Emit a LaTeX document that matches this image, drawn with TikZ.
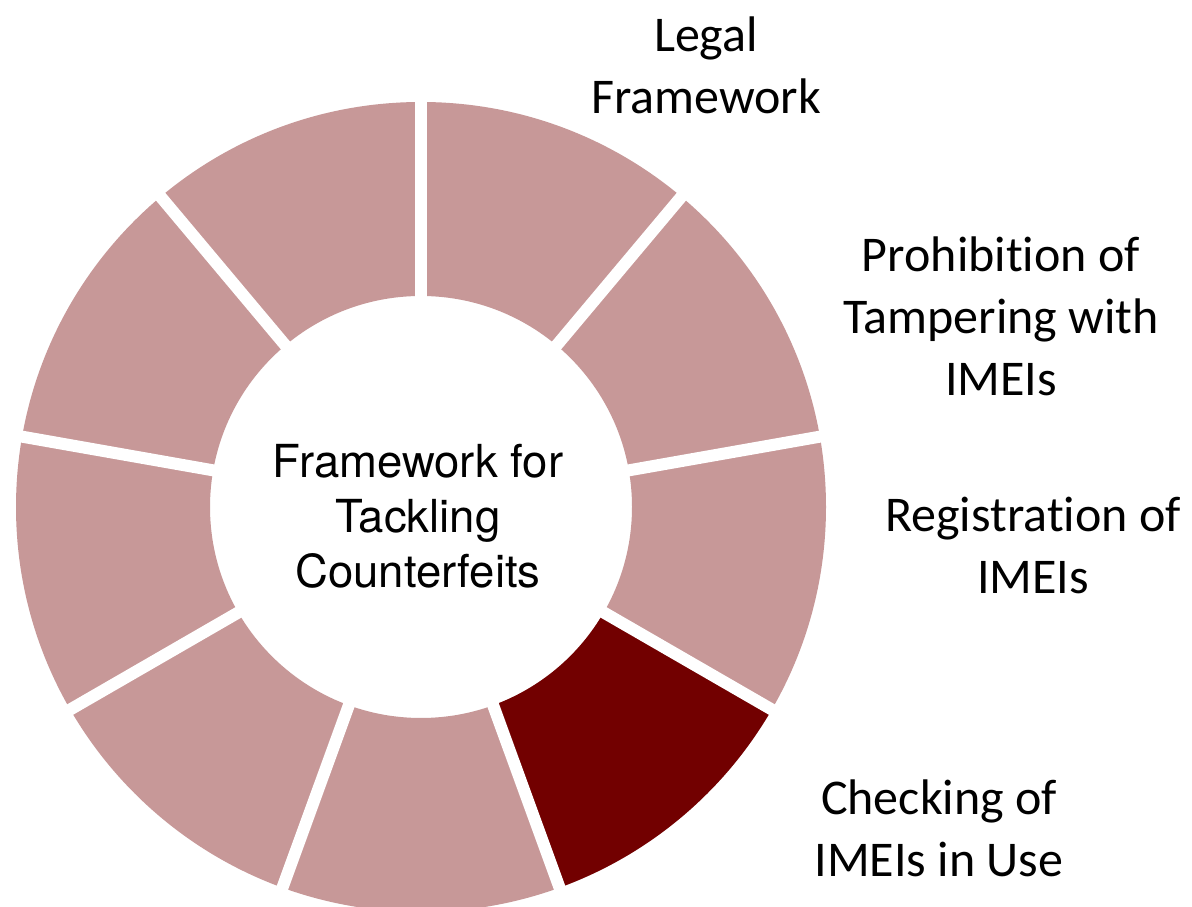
\documentclass[tikz,border=0pt]{standalone}
\usepackage{fontspec}
\setmainfont[RawFeature={-liga;-clig;-calt;-dlig;-rlig}]{Carlito}
\newfontfamily\centerfont{TeX Gyre Heros}
\definecolor{segpink}{RGB}{199,152,152}
\definecolor{segdark}{RGB}{114,0,0}
\tikzset{
  lbl/.style={anchor=base, inner sep=0pt, font=\fontsize{50}{62}\selectfont},
  ctr/.style={anchor=base, inner sep=0pt, font=\centerfont\fontsize{45.5}{55}\selectfont}
}
\begin{document}
\begin{tikzpicture}
\useasboundingbox (0pt,0pt) rectangle (1192pt,907pt);
\clip (0pt,0pt) rectangle (1192pt,907pt);
\fill[white] (0pt,0pt) rectangle (1192pt,907pt);
\begin{scope}[shift={(421pt,400pt)}]
  \fill[segpink, even odd rule] (0,0) circle[radius=405pt] (0,0) circle[radius=211pt];
  \fill[segdark] (290:211pt) arc[start angle=290, end angle=330, radius=211pt]
     -- (330:405pt) arc[start angle=330, end angle=290, radius=405pt] -- cycle;
  \foreach \a in {90,130,170,210,250,290,330,370,410}
    \draw[white, line width=12pt] (\a:200pt) -- (\a:420pt);
\end{scope}
\node[ctr] (center) at (418pt,429pt) {\begin{tabular}[t]{@{}c@{}}Framework for\\Tackling\\Counterfeits\end{tabular}};
\node[lbl] (legal) at (706pt,855pt) {\begin{tabular}[t]{@{}c@{}}Legal\\Framework\end{tabular}};
\node[lbl] (prohib) at (1001pt,635pt) {\begin{tabular}[t]{@{}c@{}}Prohibit\kern0pt ion of\\Tampering with\\IMEIs\end{tabular}};
\node[lbl] (regist) at (1033pt,375pt) {\begin{tabular}[t]{@{}c@{}}Registrat\kern0pt ion of\\IMEIs\end{tabular}};
\node[lbl] (check) at (939pt,92pt) {\begin{tabular}[t]{@{}c@{}}Checking of\\IMEIs in Use\end{tabular}};
\end{tikzpicture}
\end{document}
